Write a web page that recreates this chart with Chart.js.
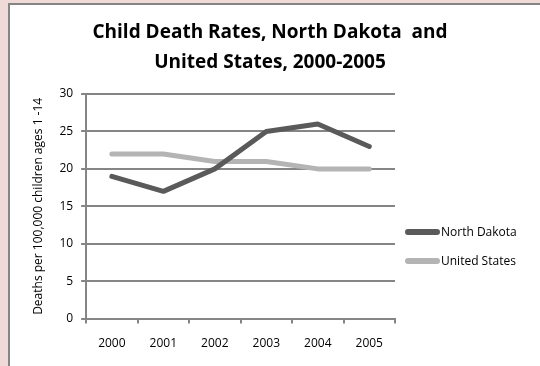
<!DOCTYPE html>
<html>
<head>
<meta charset="utf-8">
<script src="https://cdn.jsdelivr.net/npm/chart.js@4"></script>
<style>
  html, body { margin: 0; padding: 0; background: #efdad7; }
  body { width: 540px; height: 366px; position: relative; overflow: hidden; }
  #panel {
    position: absolute; left: 8px; top: 3px; width: 560px; height: 400px;
    background: #fff; border-left: 2px solid #858585; border-top: 2px solid #858585;
  }
  #wrap { position: absolute; left: 0; top: 0; width: 540px; height: 366px; }
</style>
</head>
<body>
<div id="panel"></div>
<div id="wrap"><canvas id="myChart" width="540" height="366"></canvas></div>
<script>
const years = ["2000", "2001", "2002", "2003", "2004", "2005"];
const northDakota = [19, 17, 20, 25, 26, 23];
const unitedStates = [22, 22, 21, 21, 20, 20];

const FONT = "'Open Sans', 'Liberation Sans', sans-serif";
const GRID = "#858585";

// legend to the right of the plot, Excel style (short thick line + label)
const sideLegend = {
  id: "sideLegend",
  afterDraw(chart) {
    const ctx = chart.ctx;
    const area = chart.chartArea;
    ctx.save();
    chart.data.datasets.forEach((ds, i) => {
      const y = area.top + 138 + i * 29;
      const x = area.right + 13;
      ctx.strokeStyle = ds.borderColor;
      ctx.lineWidth = 6;
      ctx.lineCap = "round";
      ctx.beginPath();
      ctx.moveTo(x, y);
      ctx.lineTo(x + 29, y);
      ctx.stroke();
      ctx.fillStyle = "#000";
      ctx.font = "12px " + FONT;
      ctx.textBaseline = "middle";
      ctx.fillText(ds.label, x + 33, y + 1);
    });
    ctx.restore();
  },
};

new Chart(document.getElementById("myChart"), {
  type: "line",
  data: {
    labels: years,
    datasets: [
      {
        label: "North Dakota",
        data: northDakota,
        borderColor: "#5a5a5a",
        borderWidth: 5,
        pointRadius: 0,
        borderCapStyle: "round",
        borderJoinStyle: "round",
      },
      {
        label: "United States",
        data: unitedStates,
        borderColor: "#b4b4b4",
        borderWidth: 5,
        pointRadius: 0,
        borderCapStyle: "round",
        borderJoinStyle: "round",
      },
    ],
  },
  options: {
    responsive: false,
    animation: false,
    layout: { padding: { top: 18, left: 31, right: 31, bottom: 2 } },
    plugins: {
      legend: { display: false },
      tooltip: { enabled: false },
      title: {
        display: true,
        text: ["Child Death Rates, North Dakota  and", "United States, 2000-2005"],
        color: "#000",
        font: { family: FONT, size: 19, weight: "bold", lineHeight: 1.58 },
        padding: { top: 0, bottom: 16 },
      },
    },
    scales: {
      x: {
        offset: true,
        grid: {
          display: true,
          drawOnChartArea: false,
          drawTicks: true,
          tickLength: 5,
          offset: true,
          color: GRID,
          lineWidth: 2,
        },
        border: { color: GRID, width: 2 },
        ticks: {
          color: "#000",
          font: { family: FONT, size: 12 },
          padding: 13,
          maxRotation: 0,
        },
      },
      y: {
        min: 0,
        max: 30,
        ticks: {
          stepSize: 5,
          color: "#000",
          font: { family: FONT, size: 12 },
          padding: 8,
        },
        grid: { color: GRID, lineWidth: 2, tickLength: 5 },
        border: { color: GRID, width: 2 },
        title: {
          display: true,
          text: "Deaths per 100,000 children ages 1 -14",
          color: "#000",
          font: { family: FONT, size: 12 },
          padding: { top: 0, bottom: 6 },
        },
      },
      // empty axis that only keeps room on the right for the legend
      side: {
        type: "linear",
        position: "right",
        grid: { display: false },
        border: { display: false },
        ticks: { display: false },
        afterFit: (scale) => {
          scale.width = 114;
        },
      },
    },
  },
  plugins: [sideLegend],
});
</script>
</body>
</html>
